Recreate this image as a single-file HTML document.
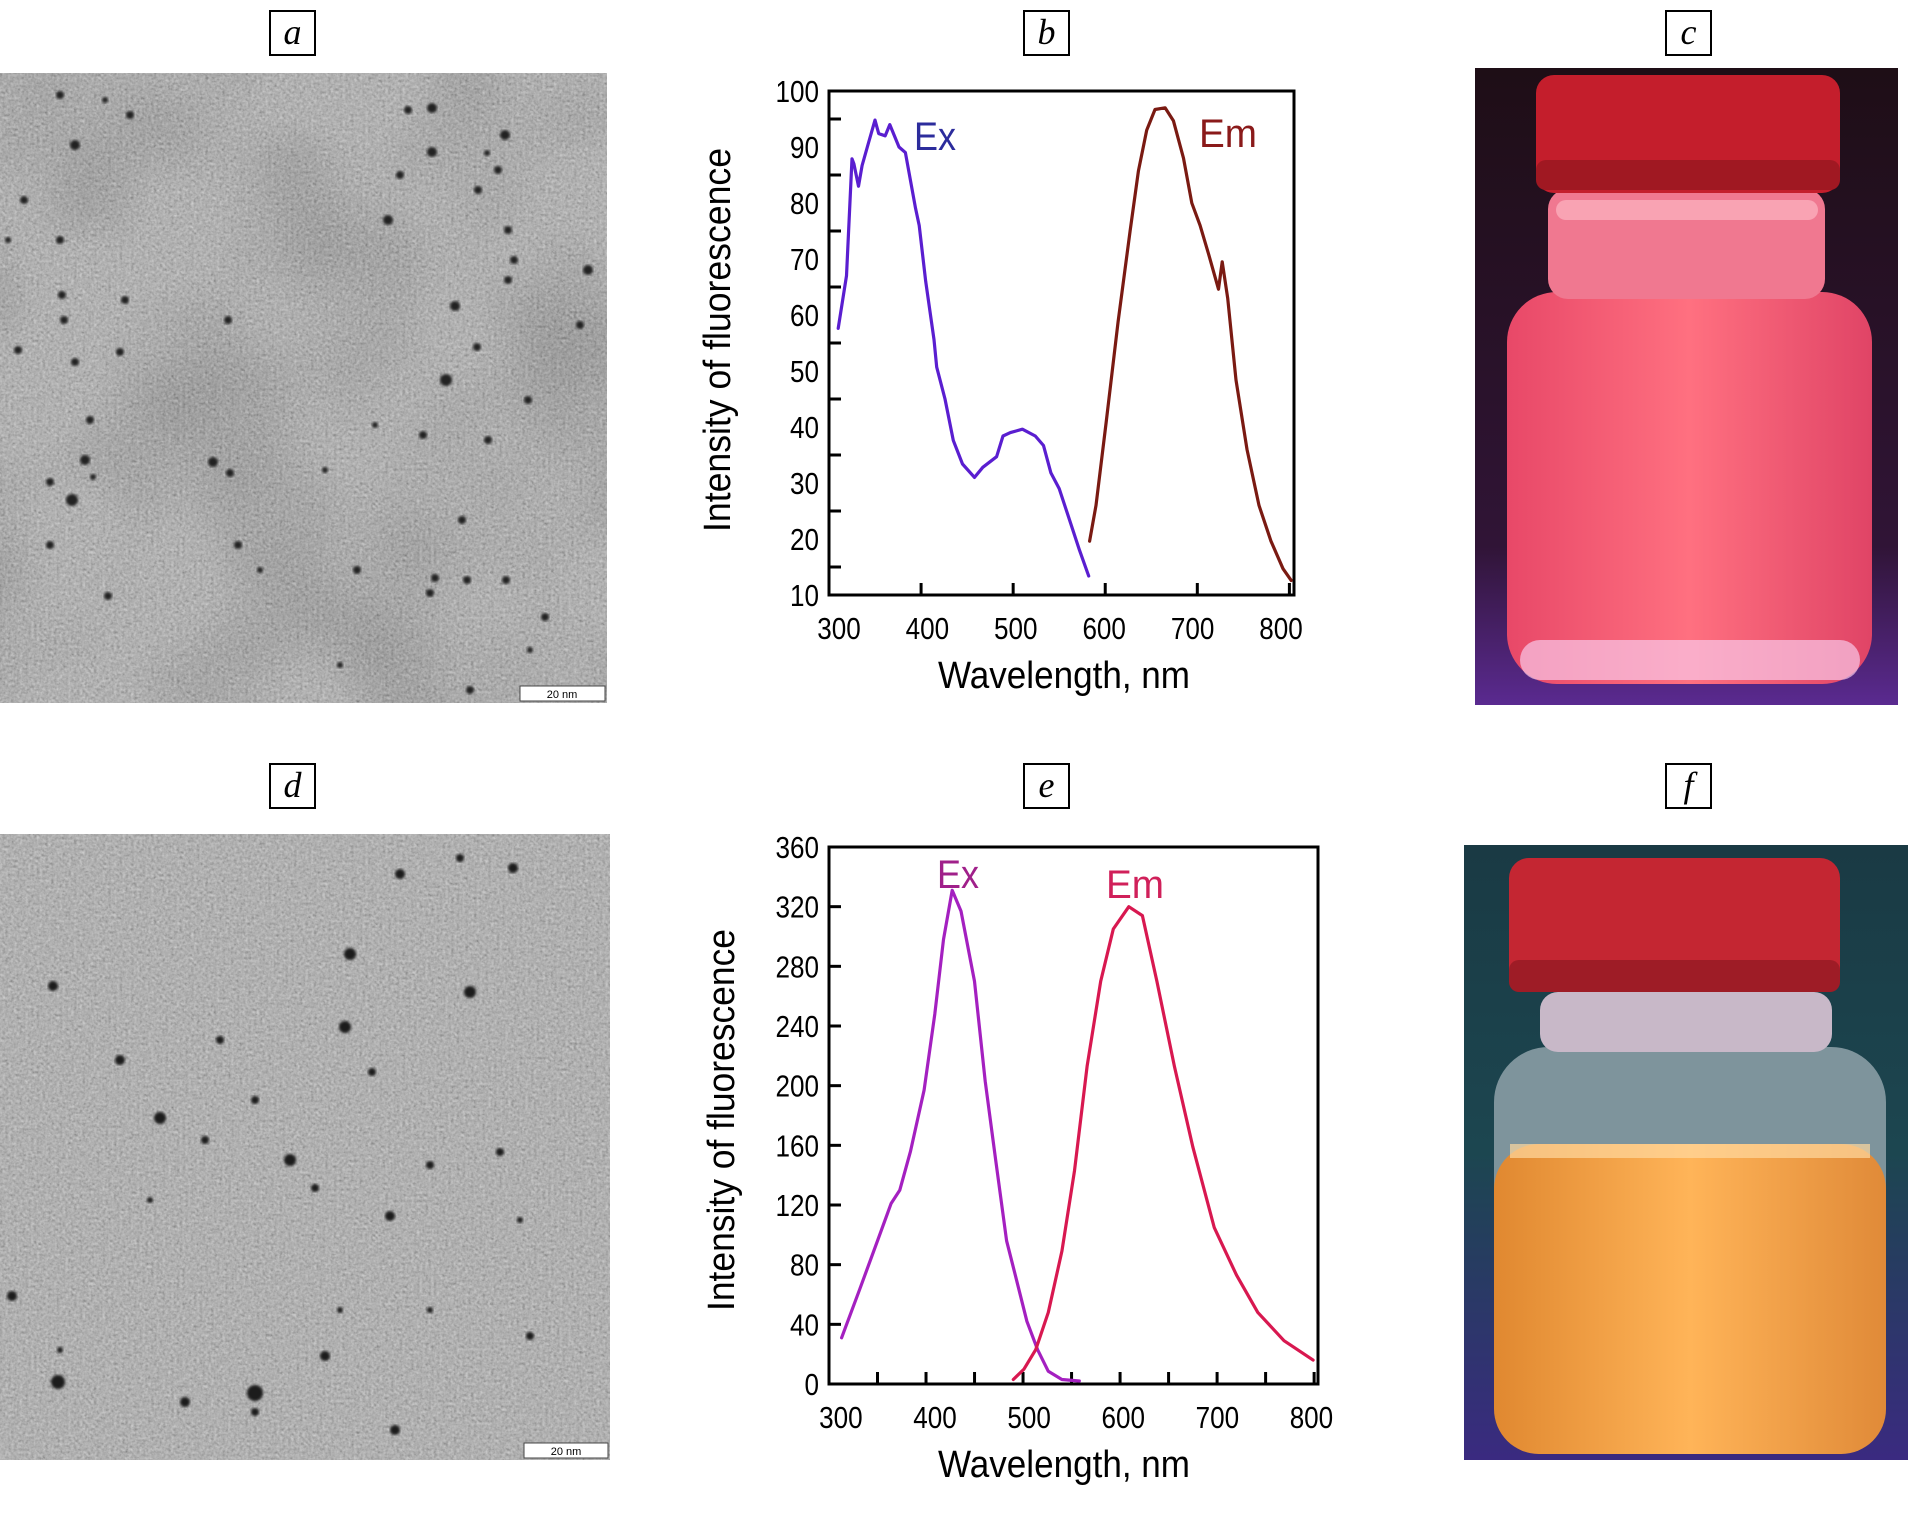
<!DOCTYPE html>
<html><head><meta charset="utf-8"><style>
html,body{margin:0;padding:0;background:#fff;}
body{width:1908px;height:1520px;position:relative;overflow:hidden;font-family:"Liberation Sans",sans-serif;}
.lbl{position:absolute;width:47px;height:46px;border:2px solid #000;box-sizing:border-box;font-family:"Liberation Serif",serif;font-style:italic;font-size:36px;line-height:40px;text-align:center;background:#fff;}
svg{position:absolute;left:0;top:0;}
</style></head><body>
<div class="lbl" style="left:269px;top:10px">a</div>
<div class="lbl" style="left:1023px;top:10px">b</div>
<div class="lbl" style="left:1665px;top:10px">c</div>
<div class="lbl" style="left:269px;top:763px">d</div>
<div class="lbl" style="left:1023px;top:763px">e</div>
<div class="lbl" style="left:1665px;top:763px">f</div>

<svg width="1908" height="1520" id="main">
<defs>
<filter id="noiseA" x="0" y="0" width="100%" height="100%">
<feTurbulence type="fractalNoise" baseFrequency="0.35" numOctaves="2" seed="3" result="n"/>
<feColorMatrix type="matrix" values="0.33 0.33 0.33 0 0  0.33 0.33 0.33 0 0  0.33 0.33 0.33 0 0  0 0 0 0 0.7" in="n"/>
</filter>
<filter id="blot" x="0" y="0" width="100%" height="100%">
<feTurbulence type="fractalNoise" baseFrequency="0.006" numOctaves="2" seed="7"/>
<feColorMatrix type="matrix" values="0 0 0 0 0  0 0 0 0 0  0 0 0 0 0  -1.8 0 0 0 1.1"/>
</filter>
<filter id="blur1"><feGaussianBlur stdDeviation="1.2"/></filter>
<linearGradient id="bodyC" x1="0" x2="1"><stop offset="0" stop-color="#e84868"/><stop offset="0.5" stop-color="#ff7080"/><stop offset="1" stop-color="#e04466"/></linearGradient>
<linearGradient id="bgC" x1="0" y1="0" x2="0" y2="1"><stop offset="0" stop-color="#1e0e16"/><stop offset="0.75" stop-color="#301436"/><stop offset="1" stop-color="#5a2a90"/></linearGradient>
<linearGradient id="bgF" x1="0" y1="0" x2="0" y2="1"><stop offset="0" stop-color="#1a3a44"/><stop offset="0.5" stop-color="#1c4650"/><stop offset="1" stop-color="#3a2a80"/></linearGradient>
<linearGradient id="bodyF" x1="0" x2="1"><stop offset="0" stop-color="#e08830"/><stop offset="0.5" stop-color="#ffb458"/><stop offset="1" stop-color="#e08a38"/></linearGradient>
<clipPath id="clipA"><rect x="0" y="73" width="607" height="630"/></clipPath>
<clipPath id="clipD"><rect x="0" y="834" width="610" height="626"/></clipPath>
</defs>

<g clip-path="url(#clipA)">
<rect x="0" y="73" width="607" height="630" fill="#989898"/>
<rect x="0" y="73" width="607" height="630" filter="url(#blot)" opacity="0.6"/>
<rect x="0" y="73" width="607" height="630" filter="url(#noiseA)"/>
<g id="dotsA" fill="#222"></g>
<rect x="520" y="686" width="85" height="15" fill="#fff" stroke="#444"/>
<text x="562" y="698" font-size="11" text-anchor="middle">20 nm</text>
</g>
<g clip-path="url(#clipD)">
<rect x="0" y="834" width="610" height="626" fill="#969696"/>
<rect x="0" y="834" width="610" height="626" filter="url(#noiseA)"/>
<g id="dotsD" fill="#1a1a1a"></g>
<rect x="524" y="1443" width="84" height="15" fill="#fff" stroke="#444"/>
<text x="566" y="1455" font-size="11" text-anchor="middle">20 nm</text>
</g>

<g>
<rect x="1475" y="68" width="423" height="637" fill="url(#bgC)"/>
<rect x="1507" y="292" width="365" height="392" rx="50" fill="url(#bodyC)"/>
<rect x="1520" y="640" width="340" height="40" rx="20" fill="#f8c8e8" opacity="0.7"/>
<rect x="1548" y="189" width="277" height="110" rx="20" fill="#f07890"/>
<rect x="1556" y="200" width="262" height="20" rx="10" fill="#ffc0cc" opacity="0.6"/>
<rect x="1536" y="75" width="304" height="118" rx="18" fill="#c41e2c"/>
<rect x="1536" y="160" width="304" height="30" rx="10" fill="#a01822"/>
</g>
<g>
<rect x="1464" y="845" width="444" height="615" fill="url(#bgF)"/>
<rect x="1494" y="1047" width="392" height="407" rx="55" fill="#7e949c"/>
<rect x="1494" y="1144" width="392" height="310" rx="45" fill="url(#bodyF)"/>
<rect x="1510" y="1144" width="360" height="14" fill="#ffd8a0" opacity="0.7"/>
<rect x="1540" y="992" width="292" height="60" rx="18" fill="#c8b8c8"/>
<rect x="1509" y="858" width="331" height="134" rx="20" fill="#c42632"/>
<rect x="1509" y="960" width="331" height="32" rx="10" fill="#9e1c26"/>
</g>

<g id="chartB"></g>
<g id="chartE"></g>
</svg>

<script>
// ---- chart b data ----
const bExX=[310,319,325,327,332,336,343,350,354,361,366,372,376,383,394,398,405,414,417,426,435,445,458,467,482,489,497,510,524,533,541,550,559,572,582];
const bExY=[57.6,67,87.9,87,83,86.7,90.8,94.8,92.4,92,94,91.6,90,89,79,76,66,55.6,50.7,45,37.6,33.4,31,32.8,34.7,38.4,39,39.6,38.4,36.7,31.8,29,24.5,18,13.4];
const bEmX=[583,590,601,614,627,636,645,654,665,674,685,694,703,712,723,727,733,742,754,767,780,793,802];
const bEmY=[19.6,26,40.9,58.8,75,85.7,93,96.7,97,94.7,88,80,76,71,64.6,69.5,63,48.4,36,26,19.6,14.7,12.6];
const bYTicks=[10,20,30,40,50,60,70,80,90,100];
const bXTicks=[300,400,500,600,700,800];
// ---- chart e data ----
const eExX=[309,328,346,360,369,380,394,405,414,423,432,446,457,468,479,488,500,511,522,536,554];
const eExY=[31,64,96,121,130,156,197,248,298,331,317,270,203,149,96,73,42,23,8.5,3,2];
const eEmX=[486,497,509,522,536,549,562,576,589,605,619,634,652,671,693,716,738,765,795];
const eEmY=[3,10,23,48,89,143,213,270,305,320,314,270,213,159,105,73,48,29,16];
const eYTicks=[0,40,80,120,160,200,240,280,320,360];
const eXTicks=[300,400,500,600,700,800];

const NS="http://www.w3.org/2000/svg";
function mk(parent,tag,attrs){const e=document.createElementNS(NS,tag);for(const k in attrs)e.setAttribute(k,attrs[k]);parent.appendChild(e);return e;}

function drawChart(g,o){
  const sx=v=>o.L+(v-o.x0)/(o.x1-o.x0)*(o.R-o.L);
  const sy=v=>o.B-(v-o.y0)/(o.y1-o.y0)*(o.B-o.T);
  const box=mk(g,'rect',{x:o.L,y:o.T,width:o.R-o.L,height:o.B-o.T,fill:'none',stroke:'#000','stroke-width':3});
  
  
  o.yt.forEach(v=>{
    const s=String(v);
    const t=mk(g,'text',{x:o.L-10,y:sy(v)+11,'font-size':31,'text-anchor':'end',textLength:s.length*14.5,lengthAdjust:'spacingAndGlyphs'});t.textContent=s;
    
    
    const tv=v+o.tOff;
    if(tv>o.y0&&tv<o.y1){const l=mk(g,'line',{x1:o.L,x2:o.L+12,y1:sy(tv),y2:sy(tv),stroke:'#000','stroke-width':3});
      
      }
  });
  const x300=sx(o.xt[0]);
  o.xt.forEach(v=>{
    const s=String(v);
    const lx=x300+o.lOff+(sx(v)-x300)*o.labScale;
    const t=mk(g,'text',{x:lx,y:o.B+44,'font-size':31,'text-anchor':'middle',textLength:s.length*14.5,lengthAdjust:'spacingAndGlyphs'});t.textContent=s;
    
    
  });
  for(let v=o.x0;v<o.x1;v+=o.xStep){ if(v<=o.x0+1)continue;
    const l=mk(g,'line',{x1:sx(v),x2:sx(v),y1:o.B,y2:o.B-12,stroke:'#000','stroke-width':3});
    
    }
  const yt=mk(g,'text',{x:0,y:0,'font-size':38,'text-anchor':'middle',textLength:o.ytLen,lengthAdjust:'spacingAndGlyphs',transform:`translate(${o.ytx},${o.ytc}) rotate(-90)`});
  yt.textContent='Intensity of fluorescence';
  
  
  const xt=mk(g,'text',{x:1064,y:o.B+93,'font-size':38,'text-anchor':'middle',textLength:252,lengthAdjust:'spacingAndGlyphs'});
  xt.textContent='Wavelength, nm';
  
  
  o.series.forEach(s=>{
    const pts=s.x.map((x,i)=>sx(x).toFixed(1)+','+sy(s.y[i]).toFixed(1)).join(' ');
    const p=mk(g,'polyline',{points:pts,fill:'none',stroke:s.c,'stroke-width':3.2,'stroke-linejoin':'round','stroke-linecap':'round'});
    
    
    const t=mk(g,'text',{x:s.lx,y:s.ly,'font-size':40,fill:s.lc,textLength:s.label==='Ex'?42:58,lengthAdjust:'spacingAndGlyphs'});t.textContent=s.label;
    
    
  });
}
drawChart(document.getElementById('chartB'),{L:829,R:1294,T:91,B:595,x0:300,x1:805,y0:10,y1:100,xStep:100,tOff:5,lOff:10,labScale:0.96,yt:bYTicks,xt:bXTicks,ytx:730,ytc:340,ytLen:384,
  series:[{x:bExX,y:bExY,c:'#5a1ed0',name:'excitation-line-b',label:'Ex',lc:'#2c2c9c',lx:914,ly:150},
          {x:bEmX,y:bEmY,c:'#7a1a12',name:'emission-line-b',label:'Em',lc:'#8a1a1a',lx:1199,ly:147}]});
drawChart(document.getElementById('chartE'),{L:829,R:1318,T:847,B:1384,x0:296,x1:800,y0:0,y1:360,xStep:50,tOff:0,lOff:8,labScale:0.97,yt:eYTicks,xt:eXTicks,ytx:734,ytc:1120,ytLen:382,
  series:[{x:eExX,y:eExY,c:'#a420c0',name:'excitation-line-e',label:'Ex',lc:'#a0208a',lx:937,ly:888},
          {x:eEmX,y:eEmY,c:'#d81850',name:'emission-line-e',label:'Em',lc:'#d0205a',lx:1106,ly:898}]});

const dA=[[60,95,4],[75,145,5],[105,100,3],[130,115,4],[408,110,4],[432,108,5],[505,135,5],[432,152,5],[498,170,4],[487,153,3],[400,175,4],[478,190,4],[388,220,5],[508,230,4],[24,200,4],[8,240,3],[60,240,4],[508,280,4],[514,260,4],[62,295,4],[125,300,4],[64,320,4],[228,320,4],[455,306,5],[588,270,5],[580,325,4],[18,350,4],[75,362,4],[120,352,4],[477,347,4],[446,380,6],[528,400,4],[90,420,4],[423,435,4],[85,460,5],[213,462,5],[230,473,4],[50,482,4],[93,477,3],[325,470,3],[375,425,3],[488,440,4],[72,500,6],[50,545,4],[238,545,4],[357,570,4],[462,520,4],[260,570,3],[430,593,4],[506,580,4],[467,580,4],[108,596,4],[435,578,4],[545,617,4],[340,665,3],[470,690,4],[530,650,3]];
const dD=[[400,874,5],[460,858,4],[513,868,5],[53,986,5],[350,954,6],[470,992,6],[120,1060,5],[345,1027,6],[160,1118,6],[255,1100,4],[372,1072,4],[290,1160,6],[205,1140,4],[500,1152,4],[315,1188,4],[430,1165,4],[390,1216,5],[12,1296,5],[58,1382,7],[255,1393,8],[325,1356,5],[530,1336,4],[185,1402,5],[395,1430,5],[255,1412,4],[60,1350,3],[220,1040,4],[340,1310,3],[430,1310,3],[150,1200,3],[520,1220,3]];
const ga=document.getElementById('dotsA');
dA.forEach(d=>{const c=mk(ga,'circle',{cx:d[0],cy:d[1],r:d[2],filter:'url(#blur1)'});
  
  });
const gd=document.getElementById('dotsD');
dD.forEach(d=>{const c=mk(gd,'circle',{cx:d[0],cy:d[1],r:d[2],filter:'url(#blur1)'});
  
  });
</script>
</body></html>
